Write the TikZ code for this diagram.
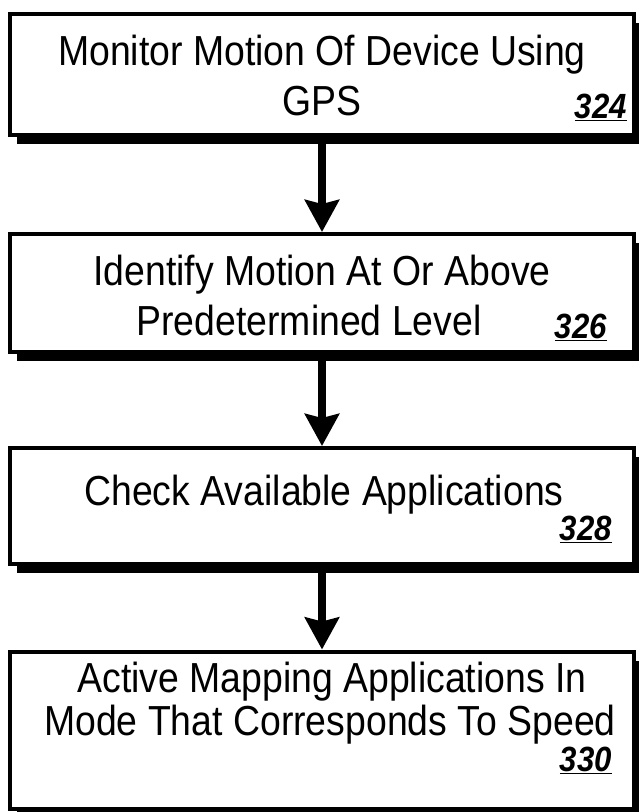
\documentclass[tikz,border=0pt]{standalone}
\usepackage{fontspec}
\setmainfont[FakeStretch=0.89]{Liberation Sans}
\usetikzlibrary{arrows.meta,shadows}
\begin{document}
\begin{tikzpicture}[x=1pt,y=-1pt,
  stepbox/.style={draw=black, line width=4pt, fill=white, rectangle, inner sep=0pt,
    minimum width=624pt,
    general shadow={fill=black, shadow xshift=7pt, shadow yshift=-9pt}},
  txt/.style={anchor=base, inner sep=0pt, font=\fontsize{42}{50}\selectfont},
  num/.style={anchor=base east, inner sep=0pt, font=\fontsize{35}{40}\selectfont\bfseries\itshape},
  flow/.style={line width=8pt, -{Stealth[width=34pt,length=32pt,inset=4pt]}}]
\useasboundingbox (0,0) rectangle (639,812);
\node[stepbox, minimum height=121pt] (b1) at (322,74.5) {};
\node[stepbox, minimum height=118pt] (b2) at (322,293) {};
\node[stepbox, minimum height=116pt] (b3) at (322,506) {};
\node[stepbox, minimum height=157pt] (b4) at (322,730) {};
\node[txt] (t1a) at (322,65) {Monitor Motion Of Device Using};
\node[txt] (t1b) at (322,115) {GPS};
\node[num] (n1) at (627,118) {\underline{324}};
\node[txt] (t2a) at (322,285) {Identify Motion At Or Above};
\node[txt] (t2b) at (309,335) {Predetermined Level};
\node[num] (n2) at (607,338) {\underline{326}};
\node[txt] (t3a) at (324,505) {Check Available Applications};
\node[num] (n3) at (612,540) {\underline{328}};
\node[txt] (t4a) at (332,692) {Active Mapping Applications In};
\node[txt] (t4b) at (330,735) {Mode That Corresponds To Speed};
\node[num] (n4) at (612,771) {\underline{330}};
\draw[flow] ([yshift=-4pt]b1.south) -- (b2.north);
\draw[flow] ([yshift=-4pt]b2.south) -- (b3.north);
\draw[flow] ([yshift=-4pt]b3.south) -- (b4.north);
\end{tikzpicture}
\end{document}
